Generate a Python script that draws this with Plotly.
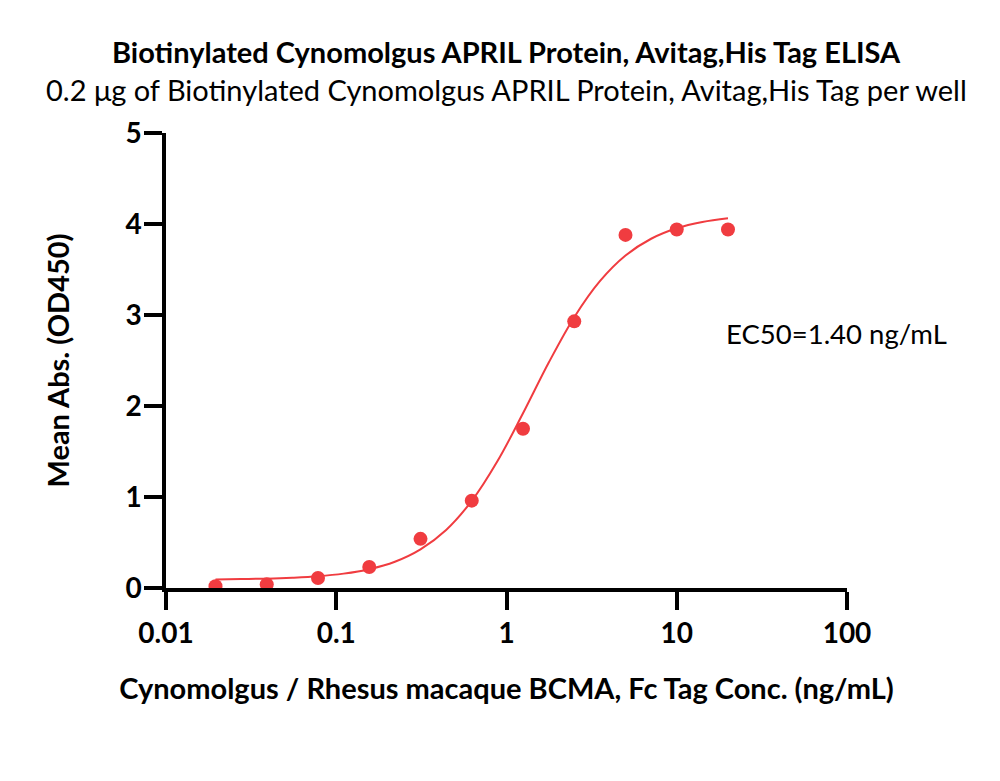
import plotly.graph_objects as go

# Measured data points
conc = [0.01953, 0.03906, 0.07813, 0.15625, 0.3125, 0.625, 1.25, 2.5, 5, 10, 20]
od450 = [0.02, 0.04, 0.11, 0.23, 0.54, 0.96, 1.75, 2.93, 3.88, 3.94, 3.94]

# Fitted curve
curve_x = [0.01953, 0.02762, 0.03906, 0.05524, 0.07813, 0.1105, 0.15625, 0.221,
           0.3125, 0.442, 0.625, 0.884, 1.25, 1.768, 2.5, 3.536, 5, 7.071, 10, 14.14, 20]
curve_y = [0.094, 0.098, 0.103, 0.113, 0.129, 0.158, 0.207, 0.289,
           0.425, 0.638, 0.958, 1.393, 1.920, 2.475, 2.976, 3.372, 3.654, 3.838, 3.953, 4.022, 4.063]

x_ticks = [0.01, 0.1, 1, 10, 100]
x_tick_labels = ["0.01", "0.1", "1", "10", "100"]
y_ticks = [0, 1, 2, 3, 4, 5]

title = "Biotinylated Cynomolgus APRIL Protein, Avitag,His Tag ELISA"
subtitle = "0.2 μg of Biotinylated Cynomolgus APRIL Protein, Avitag,His Tag per well"
x_title = "Cynomolgus / Rhesus macaque BCMA, Fc Tag Conc. (ng/mL)"
y_title = "Mean Abs. (OD450)"
ec50_text = "EC50=1.40 ng/mL"

RED = "rgb(240,60,64)"
FONT = "Lato"

fig = go.Figure()
fig.add_trace(go.Scatter(x=curve_x, y=curve_y, mode="lines", line=dict(color=RED, width=2, shape="spline"),
                         hoverinfo="skip", showlegend=False))
fig.add_trace(go.Scatter(x=conc, y=od450, mode="markers", marker=dict(color=RED, size=14),
                         showlegend=False))

fig.update_layout(
    width=1000, height=781,
    margin=dict(l=158, r=161, t=125, b=201),
    paper_bgcolor="white", plot_bgcolor="white",
    font=dict(family=FONT, color="black"),
    xaxis=dict(type="log", range=[-2, 2], tickvals=x_ticks, ticktext=x_tick_labels,
               showgrid=False, zeroline=False, showline=True, linecolor="black", linewidth=3.5,
               ticks="outside", ticklen=18, tickwidth=3.5, tickcolor="black", ticklabelstandoff=0,
               tickfont=dict(family=FONT, size=28, color="black", weight="bold"),
               title=dict(text=x_title, font=dict(family=FONT, size=29, color="black", weight="bold"), standoff=31)),
    yaxis=dict(range=[0, 5], tickvals=y_ticks,
               showgrid=False, zeroline=False, showline=True, linecolor="black", linewidth=3.5,
               ticks="outside", ticklen=18, tickwidth=3.5, tickcolor="black", ticklabelstandoff=-3,
               tickfont=dict(family=FONT, size=28, color="black", weight="bold"),
               title=dict(text=y_title, font=dict(family=FONT, size=29, color="black", weight="bold"), standoff=48)),
    annotations=[
        dict(text=title, xref="paper", yref="paper", x=0.5, y=(588 - 52) / 455, xanchor="center", yanchor="middle",
             showarrow=False, font=dict(family=FONT, size=29, color="black", weight="bold")),
        dict(text=subtitle, xref="paper", yref="paper", x=0.5, y=(588 - 90) / 455, xanchor="center", yanchor="middle",
             showarrow=False, font=dict(family=FONT, size=29, color="black")),
        dict(text=ec50_text, xref="paper", yref="paper", x=(724 - 166) / 681, y=(588 - 333) / 455,
             xanchor="left", yanchor="middle", showarrow=False, font=dict(family=FONT, size=27.5, color="black")),
    ],
)

fig.write_html("out.html")
